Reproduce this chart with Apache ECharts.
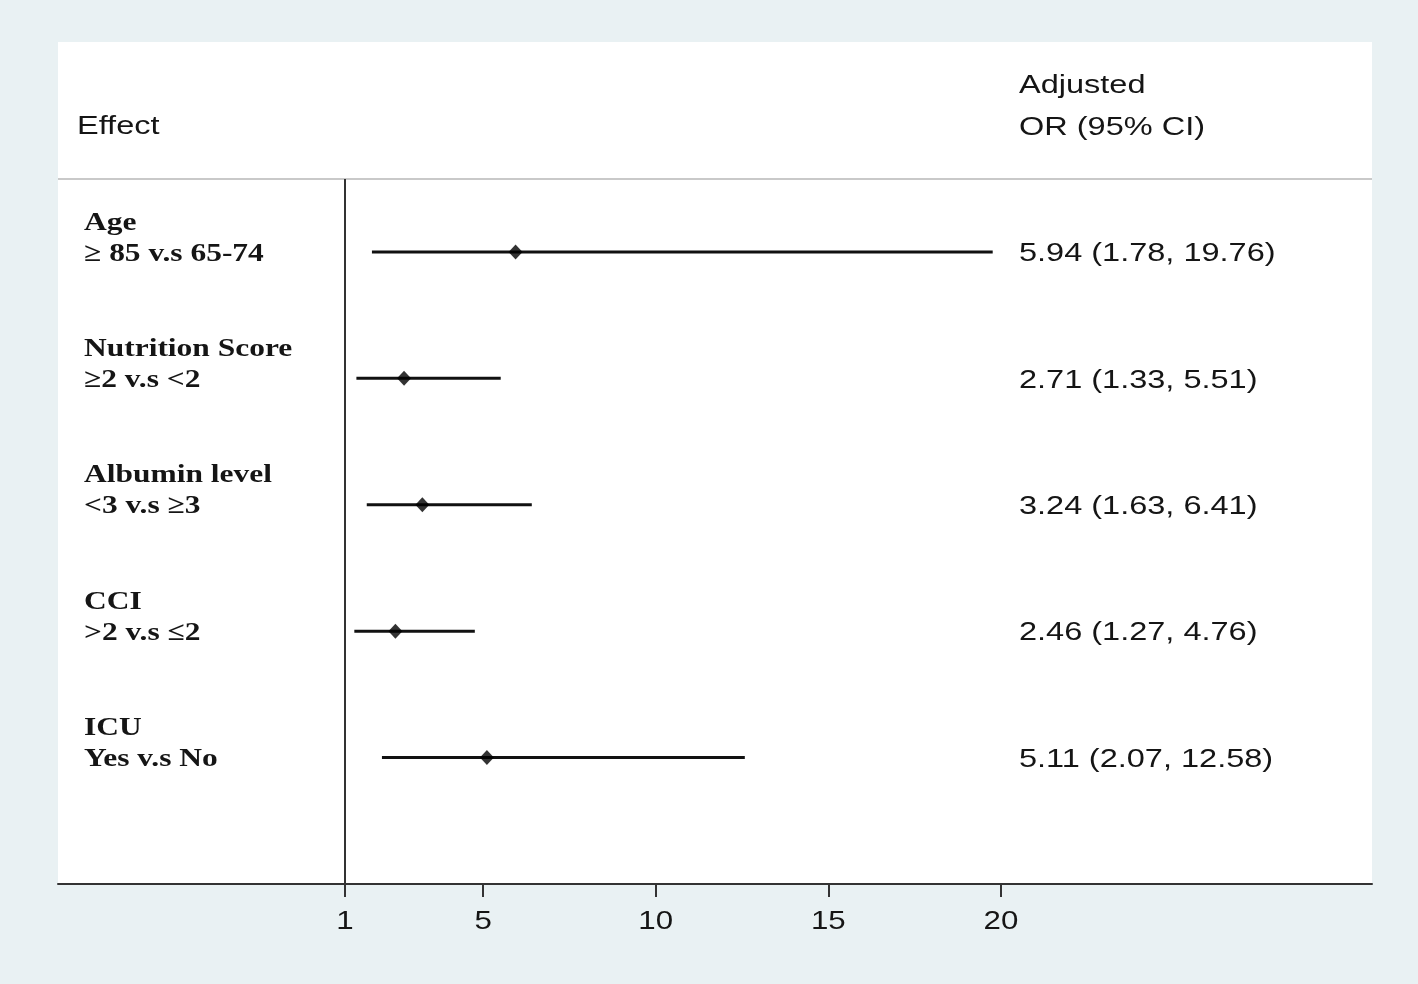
<!DOCTYPE html>
<html><head><meta charset="utf-8">
<script src="https://cdn.jsdelivr.net/npm/echarts@6/dist/echarts.min.js"></script>
<style>html,body{margin:0;padding:0;background:#e9f1f3;}#c{width:1418px;height:984px;}</style>
</head><body><div id="c"></div>
<script>
// ---- data ----
const effectNames = ['Age', 'Nutrition Score', 'Albumin level', 'CCI', 'ICU'];
const contrasts = ['\u2265 85 v.s 65-74', '\u22652 v.s <2', '<3 v.s \u22653', '>2 v.s \u22642', 'Yes v.s No'];
const orValues = [5.94, 2.71, 3.24, 2.46, 5.11];
const ciLower = [1.78, 1.33, 1.63, 1.27, 2.07];
const ciUpper = [19.76, 5.51, 6.41, 4.76, 12.58];
const tickValues = [1, 5, 10, 15, 20];
const refValue = 1;

// ---- layout ----
const SX_SANS = 1.25;  // horizontal stretch of text in reference
const SX_SERIF = 1.21;
const sans = '"Liberation Sans", Arial, sans-serif';
const serif = '"Liberation Serif", "Times New Roman", serif';
const textColX = 1019;

const chart = echarts.init(document.getElementById('c'), null, {renderer: 'canvas'});
const rowIdx = effectNames.map((_, i) => i);
const fmt = v => v.toFixed(2);

function txt(x, y, s, font, size, weight, align) {
  return {type: 'text', x: x, y: y, scaleX: font === serif ? SX_SERIF : SX_SANS, z: 10,
    style: {text: s, x: 0, y: 0, fill: '#151515', font: (weight || 'normal') + ' ' + size + 'px ' + font,
      textAlign: align || 'left', textVerticalAlign: 'middle', verticalAlign: 'middle'}};
}

const option = {
  backgroundColor: '#e9f1f3',
  animation: false,
  graphic: [
    {type: 'rect', shape: {x: 58, y: 42, width: 1314, height: 842}, style: {fill: '#ffffff'}, z: -10},
    {type: 'line', shape: {x1: 58, y1: 179, x2: 1372, y2: 179}, style: {stroke: '#c9c9c9', lineWidth: 2}, z: 5},
    txt(77, 127, 'Effect', sans, 26),
    txt(textColX, 86, 'Adjusted', sans, 26),
    txt(textColX, 128, 'OR (95% CI)', sans, 26)
  ],
  grid: {left: 58, right: 46, top: 179, bottom: 100, show: false},
  xAxis: {
    type: 'value', min: -7.313, max: 30.746, position: 'bottom',
    splitLine: {show: false},
    axisLine: {show: true, onZero: false, lineStyle: {color: '#333', width: 2}},
    axisTick: {show: true, customValues: tickValues, length: 13, lineStyle: {color: '#333', width: 2}},
    axisLabel: {show: false}
  },
  yAxis: {type: 'value', min: -0.577, max: 5, inverse: true, show: false},
  series: [
    {
      type: 'custom', name: 'ci', clip: false,
      data: rowIdx.map(i => [ciLower[i], ciUpper[i], i]),
      encode: {x: [0, 1], y: 2},
      renderItem: function (params, api) {
        const a = api.coord([api.value(0), api.value(2)]);
        const b = api.coord([api.value(1), api.value(2)]);
        return {type: 'line', shape: {x1: a[0], y1: a[1], x2: b[0], y2: b[1]},
          style: {stroke: '#111', lineWidth: 3}};
      },
      z: 3
    },
    {
      type: 'scatter', name: 'OR',
      data: rowIdx.map(i => [orValues[i], i]),
      symbol: 'diamond', symbolSize: [14, 15],
      itemStyle: {color: '#000'},
      z: 4,
      markLine: {
        silent: true, symbol: 'none', label: {show: false},
        lineStyle: {color: '#333', width: 2, type: 'solid'},
        data: [{xAxis: refValue}]
      }
    },
    {
      type: 'custom', name: 'labels', clip: false,
      data: rowIdx.map(i => [orValues[i], i]),
      encode: {x: 0, y: 1},
      renderItem: function (params, api) {
        const i = params.dataIndex;
        const p = api.coord([api.value(0), api.value(1)]);
        const lx = params.coordSys.x + 26;
        return {type: 'group', children: [
          txt(lx, p[1] - 29, effectNames[i], serif, 26, 'bold'),
          txt(lx, p[1] + 2, contrasts[i], serif, 26, 'bold'),
          txt(textColX, p[1] + 2, fmt(orValues[i]) + ' (' + fmt(ciLower[i]) + ', ' + fmt(ciUpper[i]) + ')', sans, 26)
        ]};
      }
    },
    {
      type: 'custom', name: 'ticks', clip: false,
      data: tickValues.map(v => [v, 5]),
      encode: {x: 0, y: 1},
      renderItem: function (params, api) {
        const p = api.coord([api.value(0), api.value(1)]);
        return txt(p[0], p[1] + 38, String(api.value(0)), sans, 25, 'normal', 'center');
      }
    }
  ]
};
chart.setOption(option);
</script>
</body></html>
